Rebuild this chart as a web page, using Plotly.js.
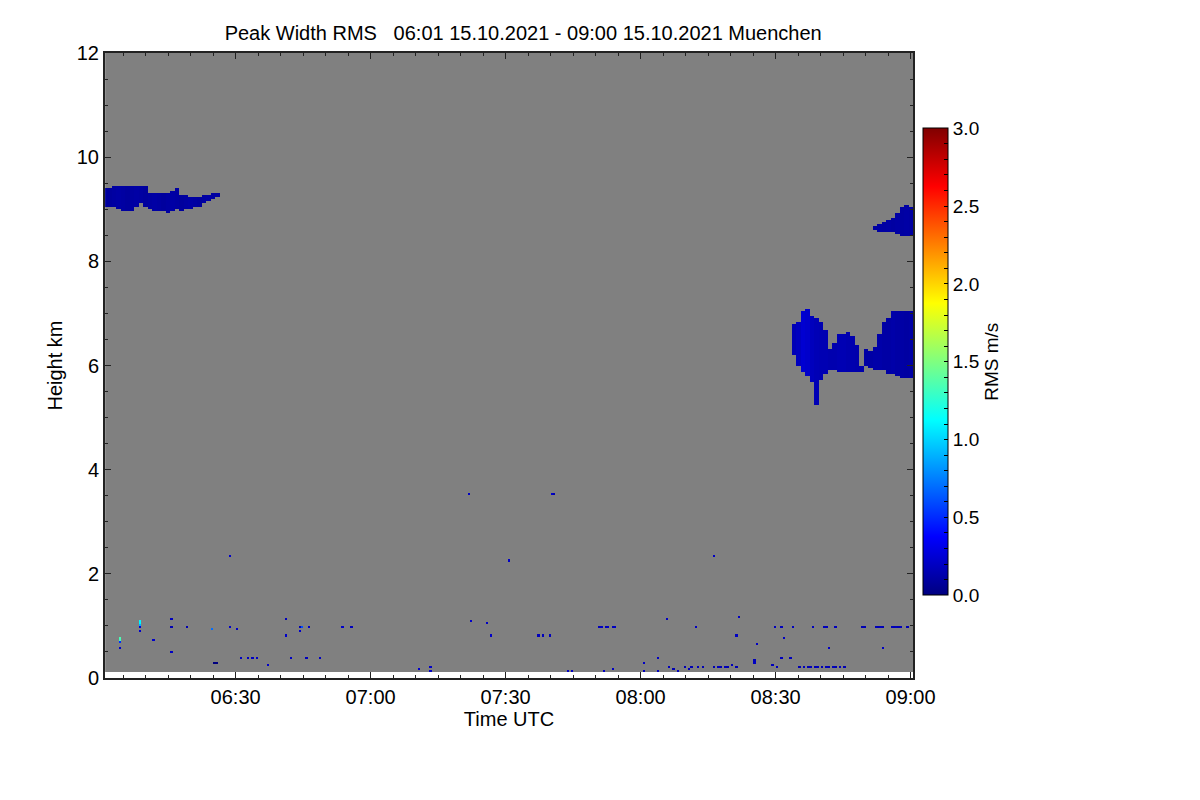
<!DOCTYPE html>
<html>
<head>
<meta charset="utf-8">
<script src="https://cdn.plot.ly/plotly-3.0.1.min.js"></script>
<style>html,body{margin:0;padding:0;background:#fff}#chart{width:1200px;height:800px}</style>
</head>
<body>
<div id="chart"></div>
<script>
// ---- Data (minutes after 06:00 UTC, heights in km, RMS in m/s) ----
// Upper cirrus band, left
const cirrusMin  = [1,2,3,4,5,6,7,8,9,10,11,12,13,14,15,16,17,18,19,20,21,22,23,24,25,26];
const cirrusTop  = [9.40,9.40,9.45,9.45,9.45,9.45,9.45,9.45,9.45,9.45,9.31,9.31,9.31,9.32,9.33,9.37,9.38,9.27,9.27,9.25,9.24,9.25,9.27,9.29,9.31,9.33];
const cirrusBase = [9.06,9.06,9.05,8.99,8.95,8.95,8.95,9.05,9.12,9.05,8.99,8.97,8.95,8.95,8.92,8.95,8.99,8.98,8.99,9.01,9.03,9.05,9.12,9.15,9.20,9.25];
const cirrusRms  = [0.10,0.09,0.10,0.11,0.10,0.09,0.10,0.11,0.10,0.09,0.10,0.11,0.10,0.09,0.10,0.11,0.10,0.09,0.10,0.11,0.10,0.09,0.10,0.11,0.10,0.10];
// Upper cirrus band, right
const cirrus2Min  = [172,173,174,175,176,177,178,179,180];
const cirrus2Top  = [8.68,8.71,8.74,8.78,8.83,8.91,9.02,9.06,9.02];
const cirrus2Base = [8.61,8.58,8.56,8.56,8.56,8.52,8.49,8.47,8.47];
const cirrus2Rms  = [0.10,0.11,0.10,0.11,0.10,0.11,0.10,0.11,0.10];
// Mid-level cloud A
const cloudAMin  = [154,155,156,157,158,159,160,161,162];
const cloudATop  = [6.80,6.84,7.04,7.07,6.97,6.92,6.84,6.66,6.30];
const cloudABase = [6.20,6.02,5.88,5.80,5.70,5.24,5.72,5.86,5.92];
const cloudARms  = [0.16,0.19,0.24,0.22,0.18,0.16,0.15,0.15,0.14];
// Mid-level cloud B
const cloudBMin  = [163,164,165,166,167,168,169];
const cloudBTop  = [6.45,6.58,6.60,6.65,6.56,6.40,5.99];
const cloudBBase = [5.91,5.87,5.87,5.87,5.87,5.89,5.88];
const cloudBRms  = [0.14,0.15,0.15,0.14,0.14,0.13,0.13];
// Mid-level cloud C
const cloudCMin  = [170,171,172,173,174,175,176,177,178,179,180];
const cloudCTop  = [6.31,6.27,6.36,6.59,6.84,6.90,7.04,7.05,7.05,7.05,7.02];
const cloudCBase = [5.99,5.97,5.94,5.91,5.91,5.86,5.84,5.82,5.78,5.77,5.76];
const cloudCRms  = [0.11,0.11,0.12,0.12,0.11,0.11,0.12,0.11,0.11,0.10,0.11];
// Scattered single echoes
const ptMin = [4.4,4.4,4.4,4.4, 8.7,8.7,8.7,8.7,8.7, 11.5,15.5,15.5,15.5,19.1, 24.9,25.4,25.9,28.6,30.0,28.8,
  31.3,32.8,33.9,34.5,37.2, 41.1,41.0,42.1,44.3,44.2,44.8,45.6,46.1,48.7,53.6,55.8,
  70.6,73.4,73.4,81.6,82.1,85.6,86.5,90.5, 97.2,98.4,99.7,100.3,100.8,103.6,104.7,
  110.6,111.1,112.3,112.8,113.5,114.3,111.6,113.6, 120.6,120.6,123.9,123.9,125.8,
  126.3,127.2,128.4,129.5,130.6,131.4,132.5,133.7, 132.1,136.3,
  136.2,137.0,137.8,138.6,139.4,140.3,141.0, 141.3,141.6,145.0,145.2,145.6,149.2,150.0,150.4,
  149.5,151.3,153.6,151.6,151.0,153.0,
  155.4,156.2,157.0,157.8,158.6,159.4,160.2,161.0,161.8,162.6,163.4,164.2,165.0,
  158.4,160.6,161.2,163.2,161.7,
  169.3,169.8,172.3,172.8,173.3,173.8,175.8,176.3,176.8,177.3,177.8,179.3,173.9];
const ptKm = [0.79,0.75,0.71,0.59, 1.10,1.06,1.02,0.97,0.88, 0.73,1.13,0.97,0.51,0.97, 0.92,0.31,0.31,0.97,0.93,2.33,
  0.38,0.38,0.38,0.38,0.26, 1.13,0.81,0.38,0.99,0.90,0.97,0.38,0.97,0.38,0.97,0.97,
  0.18,0.20,0.16,3.52,1.09,1.06,0.81,2.27, 0.81,0.81,0.81,3.54,3.54,0.16,0.16,
  0.97,0.97,0.97,0.97,0.97,0.97,0.16,0.18, 0.30,0.16,0.38,0.16,1.12,
  0.22,0.18,0.16,0.20,0.18,0.22,0.20,0.22, 0.98,2.35,
  0.23,0.22,0.23,0.22,0.23,0.26,0.22, 0.81,1.17,0.30,0.34,0.64,0.27,0.23,0.20,
  0.97,0.97,0.97,0.78,0.38,0.38,
  0.22,0.20,0.22,0.20,0.22,0.22,0.20,0.22,0.24,0.22,0.24,0.22,0.24,
  0.97,0.97,0.97,0.97,0.60,
  0.97,0.97,0.97,0.97,0.97,0.97,0.97,0.97,0.97,0.97,0.97,0.97,0.58];
const ptRms = [1.35,1.30,0.50,0.22, 1.10,1.10,0.90,0.25,0.22, 0.22,0.18,0.15,0.20,0.15, 0.70,0.00,0.00,0.22,0.22,0.22,
  0.20,0.20,0.20,0.20,0.22, 0.18,0.22,0.20,0.15,0.22,0.60,0.18,0.22,0.20,0.22,0.18,
  0.22,0.22,0.20,0.20,0.22,0.20,0.22,0.20, 0.18,0.18,0.18,0.22,0.15,0.20,0.20,
  0.18,0.20,0.18,0.20,0.18,0.20,0.20,0.20, 0.20,0.18,0.20,0.18,0.20,
  0.18,0.15,0.18,0.15,0.18,0.15,0.18,0.15, 0.20,0.20,
  0.15,0.18,0.15,0.18,0.15,0.18,0.15, 0.20,0.20,0.20,0.18,0.20,0.18,0.15,0.18,
  0.18,0.18,0.18,0.20,0.18,0.18,
  0.15,0.18,0.15,0.18,0.15,0.18,0.15,0.18,0.15,0.18,0.15,0.18,0.15,
  0.18,0.18,0.18,0.18,0.20,
  0.15,0.15,0.18,0.15,0.18,0.15,0.18,0.15,0.18,0.15,0.18,0.15,0.20];
// Colorbar tick labels
const cbTickVals = [0,0.1,0.2,0.3,0.4,0.5,0.6,0.7,0.8,0.9,1.0,1.1,1.2,1.3,1.4,1.5,1.6,1.7,1.8,1.9,2.0,2.1,2.2,2.3,2.4,2.5,2.6,2.7,2.8,2.9,3.0];
const cbTickText = ['0.0','','','','','0.5','','','','','1.0','','','','','1.5','','','','','2.0','','','','','2.5','','','','','3.0'];
const xTickLabels = ['06:30','07:00','07:30','08:00','08:30','09:00'];

// ---- Profiler sampling grid ----
const colStartMin = 1.25, colStepMin = 0.5, nCols = 359;
const gate0Km = 0.14, gateStepKm = 0.04, nGates = 297;

function minToDate(m){
  const s = Math.round(m*60);
  const hh = 6 + Math.floor(s/3600), mm = Math.floor((s%3600)/60), ss = s%60;
  const p = v => String(v).padStart(2,'0');
  return '2021-10-15 ' + p(hh)+':'+p(mm)+':'+p(ss);
}
const xCols = [], colMin = [];
for (let k=0;k<nCols;k++){ const m = colStartMin + k*colStepMin; colMin.push(m); xCols.push(minToDate(m)); }
const yGates = [];
for (let j=0;j<nGates;j++) yGates.push(+(gate0Km + j*gateStepKm).toFixed(3));

const z = [], zMask = [];
for (let j=0;j<nGates;j++){ z.push(new Array(nCols).fill(null)); zMask.push(new Array(nCols).fill(1)); }

function addFeature(mins, tops, bases, vals){
  for (let k=0;k<nCols;k++){
    const m = Math.floor(colMin[k]+0.5);
    const i = mins.indexOf(m);
    if (i<0) continue;
    for (let j=0;j<nGates;j++){
      const h = yGates[j];
      if (h>=bases[i] && h<=tops[i]) z[j][k] = vals[i];
    }
  }
}
addFeature(cirrusMin, cirrusTop, cirrusBase, cirrusRms);
addFeature(cirrus2Min, cirrus2Top, cirrus2Base, cirrus2Rms);
addFeature(cloudAMin, cloudATop, cloudABase, cloudARms);
addFeature(cloudBMin, cloudBTop, cloudBBase, cloudBRms);
addFeature(cloudCMin, cloudCTop, cloudCBase, cloudCRms);
for (let i=0;i<ptMin.length;i++){
  const k = Math.round((ptMin[i]-colStartMin)/colStepMin);
  const j = Math.round((ptKm[i]-gate0Km)/gateStepKm);
  if (k>=0 && k<nCols && j>=0 && j<nGates) z[j][k] = ptRms[i];
}

const jet = [[0,'rgb(0,0,128)'],[0.125,'rgb(0,0,255)'],[0.375,'rgb(0,255,255)'],[0.625,'rgb(255,255,0)'],[0.875,'rgb(255,0,0)'],[1,'rgb(128,0,0)']];
const F = 'Liberation Sans, Arial, Helvetica, sans-serif';

const traces = [
  {type:'heatmap', x:xCols, y:yGates, z:zMask, colorscale:[[0,'#808080'],[1,'#808080']],
   showscale:false, hoverinfo:'skip', zmin:0, zmax:1},
  {type:'heatmap', x:xCols, y:yGates, z:z, colorscale:jet, zmin:0, zmax:3, zsmooth:false,
   hoverongaps:false,
   colorbar:{x:1.012, xanchor:'left', xref:'paper', thickness:25, thicknessmode:'pixels',
     len:0.747, lenmode:'fraction', y:0.506, yanchor:'middle', ypad:0, xpad:0,
     outlinewidth:1, outlinecolor:'#000',
     tickvals:cbTickVals, ticktext:cbTickText, ticks:'inside', ticklen:4, tickcolor:'#000',
     tickfont:{family:F, size:19, color:'#000'},
     title:{text:'RMS m/s', side:'right', font:{family:F, size:19, color:'#000'}}}}
];

const tickDates = xTickLabels.map(s => '2021-10-15 ' + s + ':00');
const layout = {
  width:1200, height:800,
  margin:{l:105, r:287, t:53, b:122, pad:0},
  paper_bgcolor:'#fff', plot_bgcolor:'#fff',
  title:{text:'Peak Width RMS   06:01 15.10.2021 - 09:00 15.10.2021 Muenchen', x:0.436, xref:'container', xanchor:'center',
    y:0.959, yref:'container', yanchor:'middle', font:{family:F, size:20, color:'#000'}},
  xaxis:{type:'date', range:['2021-10-15 06:00:58','2021-10-15 09:00:32'], tickvals:tickDates, ticktext:xTickLabels,
    ticks:'inside', ticklen:6, tickcolor:'#222', tickwidth:1, showline:true, linecolor:'#222', linewidth:2, mirror:'allticks',
    minor:{dtick:300000, tick0:'2021-10-15 06:00:00', ticks:'inside', ticklen:3, tickcolor:'#222', showgrid:false},
    showgrid:false, zeroline:false, tickfont:{family:F, size:20, color:'#000'},
    title:{text:'Time UTC', standoff:2, font:{family:F, size:20, color:'#000'}}, automargin:false},
  yaxis:{range:[0,12], dtick:2, tick0:0, ticks:'inside', ticklen:6, tickcolor:'#222', showline:true, linecolor:'#222', linewidth:2,
    mirror:'allticks', minor:{dtick:0.5, ticks:'inside', ticklen:3, tickcolor:'#222', showgrid:false},
    showgrid:false, zeroline:false, tickfont:{family:F, size:20, color:'#000'},
    title:{text:'Height km', standoff:9, font:{family:F, size:20, color:'#000'}}, automargin:false}
};
Plotly.newPlot('chart', traces, layout, {displayModeBar:false, staticPlot:true});
</script>
</body>
</html>
